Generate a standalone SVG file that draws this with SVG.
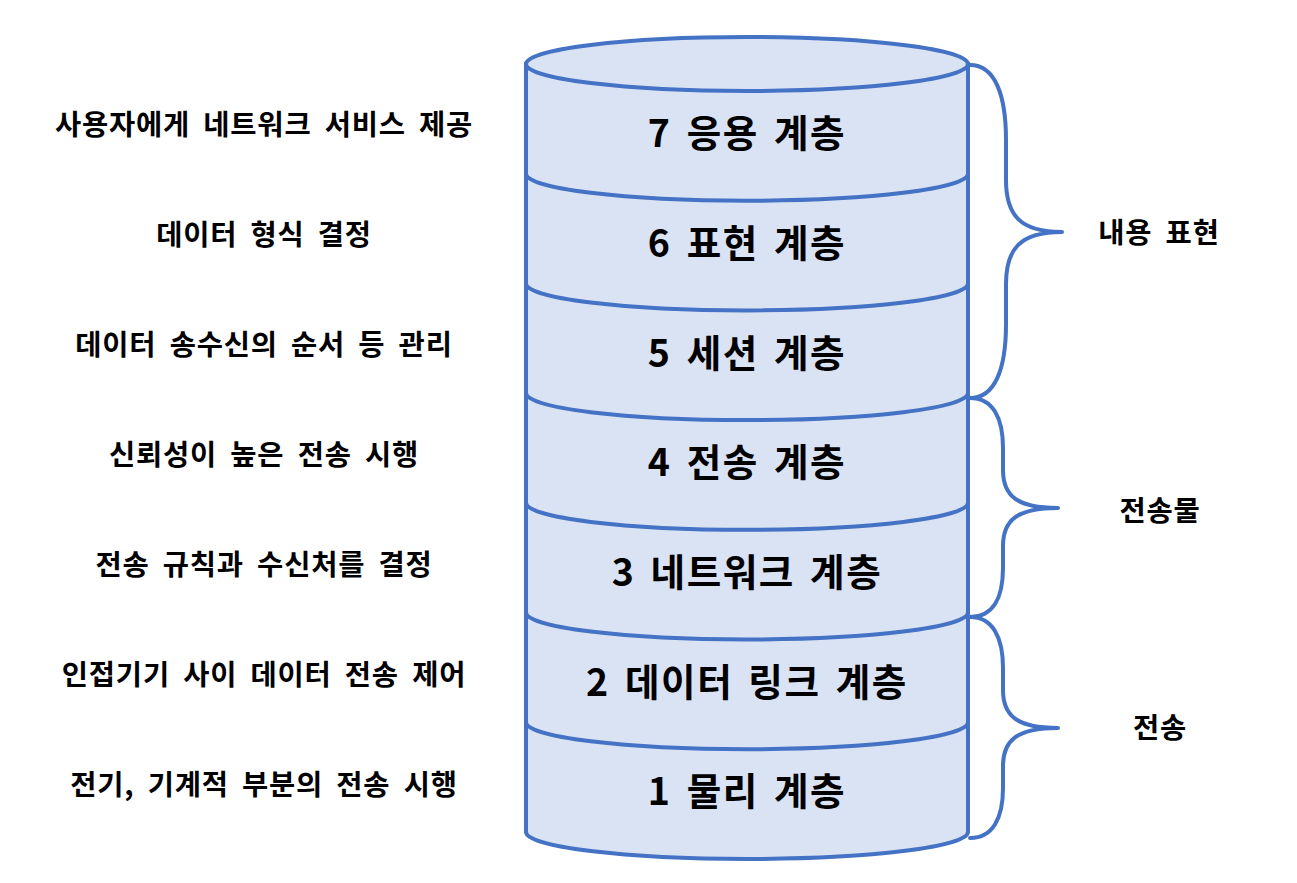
<svg xmlns="http://www.w3.org/2000/svg" width="1297" height="883" viewBox="0 0 1297 883">
<style>
.cyl{fill:#DAE3F3;stroke:#4472C4;stroke-width:4}
.band{fill:none;stroke:#4472C4;stroke-width:4}
.brace{fill:none;stroke:#4472C4;stroke-width:4;stroke-linecap:round;stroke-linejoin:round}
.lt{font-family:"Noto Sans CJK KR","Noto Sans",sans-serif;font-weight:bold;font-size:28.5px;letter-spacing:0.8px;word-spacing:6px;text-anchor:middle;fill:#000}
.layer{font-family:"Noto Sans CJK KR","Noto Sans",sans-serif;font-weight:bold;font-size:37.5px;letter-spacing:1.6px;word-spacing:5px;text-anchor:middle;fill:#000}
</style>
<rect width="1297" height="883" fill="#FFFFFF"/>
<g id="cylinder">
<path class="cyl" d="M526,64 L526,832 A221,27 0 0 0 968,832 L968,64 Z"/>
<ellipse class="cyl" cx="747" cy="64" rx="221" ry="27"/>
<path class="band" d="M526,173.7 A221,27 0 0 0 968,173.7"/>
<path class="band" d="M526,283.4 A221,27 0 0 0 968,283.4"/>
<path class="band" d="M526,393.1 A221,27 0 0 0 968,393.1"/>
<path class="band" d="M526,502.8 A221,27 0 0 0 968,502.8"/>
<path class="band" d="M526,612.5 A221,27 0 0 0 968,612.5"/>
<path class="band" d="M526,722.2 A221,27 0 0 0 968,722.2"/>
</g>
<g id="layer7"><text class="layer" x="747" y="147">7 응용 계층</text></g>
<g id="layer6"><text class="layer" x="747" y="257">6 표현 계층</text></g>
<g id="layer5"><text class="layer" x="747" y="367">5 세션 계층</text></g>
<g id="layer4"><text class="layer" x="747" y="476">4 전송 계층</text></g>
<g id="layer3"><text class="layer" x="747" y="586">3 네트워크 계층</text></g>
<g id="layer2"><text class="layer" x="747" y="696">2 데이터 링크 계층</text></g>
<g id="layer1"><text class="layer" x="747" y="805">1 물리 계층</text></g>
<g id="desc7"><text class="lt" x="264" y="134.5">사용자에게 네트워크 서비스 제공</text></g>
<g id="desc6"><text class="lt" x="264" y="244.5">데이터 형식 결정</text></g>
<g id="desc5"><text class="lt" x="264" y="354.5">데이터 송수신의 순서 등 관리</text></g>
<g id="desc4"><text class="lt" x="264" y="464.5">신뢰성이 높은 전송 시행</text></g>
<g id="desc3"><text class="lt" x="264" y="574.5">전송 규칙과 수신처를 결정</text></g>
<g id="desc2"><text class="lt" x="264" y="684.5">인접기기 사이 데이터 전송 제어</text></g>
<g id="desc1"><text class="lt" x="264" y="794.5">전기, 기계적 부분의 전송 시행</text></g>
<g id="connectors">
<path class="brace" d="M970,65 C995,65 1006,95 1006,140 L1006,180 C1006,215 1020,232 1062,232 C1020,232 1006,249 1006,284 L1006,324 C1006,369 995,398 970,398"/>
<path class="brace" d="M970,398 C993,398 1003,418 1003,448 L1003,470 C1003,495 1016,508 1058,508 C1016,508 1003,521 1003,546 L1003,568 C1003,598 993,617 970,617"/>
<path class="brace" d="M970,617 C993,617 1003,638 1003,668 L1003,690 C1003,715 1016,728 1058,728 C1016,728 1003,741 1003,766 L1003,788 C1003,818 993,838 970,838"/>
</g>
<g id="label-content"><text class="lt" x="1159" y="242.5">내용 표현</text></g>
<g id="label-transfer"><text class="lt" x="1160" y="520.5">전송물</text></g>
<g id="label-transmission"><text class="lt" x="1160" y="737.5">전송</text></g>
</svg>
